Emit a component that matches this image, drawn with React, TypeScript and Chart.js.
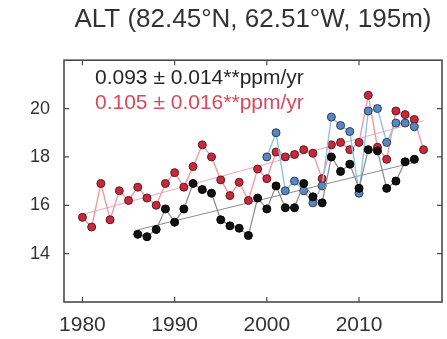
import { useEffect, useRef } from "react";
import { Chart, registerables } from "chart.js";

Chart.register(...registerables);

// Annual values (ppm) for the three records at Alert
const redYears = [1980, 1981, 1982, 1983, 1984, 1985, 1986, 1987, 1988, 1989, 1990, 1991, 1992, 1993, 1994, 1995, 1996, 1997, 1998, 1999, 2000, 2001, 2002, 2003, 2004, 2005, 2006, 2007, 2008, 2009, 2010, 2011, 2012, 2013, 2014, 2015, 2016, 2017];
const redValues = [15.5, 15.1, 16.9, 15.4, 16.6, 16.2, 16.75, 16.3, 16.0, 16.9, 17.35, 16.75, 17.6, 18.5, 18.0, 17.05, 16.4, 16.95, 16.2, 17.5, 17.1, 18.2, 18.0, 18.1, 18.3, 18.15, 17.1, 18.5, 18.6, 18.3, 18.6, 20.55, 18.4, 17.9, 19.9, 19.75, 19.55, 18.3];

const blackYears = [1986, 1987, 1988, 1989, 1990, 1991, 1992, 1993, 1994, 1995, 1996, 1997, 1998, 1999, 2000, 2001, 2002, 2003, 2004, 2005, 2006, 2007, 2008, 2009, 2010, 2011, 2012, 2013, 2014, 2015, 2016];
const blackValues = [14.8, 14.7, 15.0, 15.85, 15.3, 15.85, 16.9, 16.65, 16.5, 15.4, 15.15, 15.05, 14.75, 16.3, 15.85, 16.8, 15.9, 15.9, 16.9, 16.35, 16.1, 18.0, 17.4, 17.7, 16.7, 18.3, 18.25, 16.7, 17.0, 17.8, 17.9];

const blueYears = [2000, 2001, 2002, 2003, 2004, 2005, 2006, 2007, 2008, 2009, 2010, 2011, 2012, 2013, 2014, 2015, 2016];
const blueValues = [18.0, 19.0, 16.6, 17.0, 16.6, 16.1, 16.8, 19.65, 19.3, 19.05, 16.5, 19.9, 20.0, 18.6, 19.4, 19.4, 19.25];

// Trend slopes (ppm/yr) as printed in the panel
const blackSlope = 0.093;
const redSlope = 0.105;
const blackTrendLabel = "0.093 \u00b1 0.014**ppm/yr";
const redTrendLabel = "0.105 \u00b1 0.016**ppm/yr";

const xTickValues = [1980, 1990, 2000, 2010];
const yTickValues = [14, 16, 18, 20];

const titleText = "ALT (82.45\u00b0N, 62.51\u00b0W, 195m)";

const FONT = "'Liberation Sans', Arial, sans-serif";

function toPoints(xs: number[], ys: number[]) {
  return xs.map((x, i) => ({ x, y: ys[i] }));
}

// Straight fit line with a fixed slope through the mean of the series
function trendLine(xs: number[], ys: number[], slope: number) {
  const mx = xs.reduce((a, b) => a + b, 0) / xs.length;
  const my = ys.reduce((a, b) => a + b, 0) / ys.length;
  const x0 = xs[0];
  const x1 = xs[xs.length - 1];
  return [
    { x: x0, y: my + slope * (x0 - mx) },
    { x: x1, y: my + slope * (x1 - mx) },
  ];
}

const framePlugin = {
  id: "frameAndNotes",
  afterDraw(chart: any) {
    const { ctx, chartArea: a, scales } = chart;
    ctx.save();
    ctx.strokeStyle = "#4a4a4a";
    ctx.lineWidth = 1.6;
    ctx.strokeRect(a.left, a.top, a.right - a.left, a.bottom - a.top);

    const len = 5;
    ctx.lineWidth = 1.2;
    ctx.beginPath();
    xTickValues.forEach((v) => {
      const px = scales.x.getPixelForValue(v);
      ctx.moveTo(px, a.bottom);
      ctx.lineTo(px, a.bottom - len);
      ctx.moveTo(px, a.top);
      ctx.lineTo(px, a.top + len);
    });
    yTickValues.forEach((v) => {
      const py = scales.y.getPixelForValue(v);
      ctx.moveTo(a.left, py);
      ctx.lineTo(a.left + len, py);
      ctx.moveTo(a.right, py);
      ctx.lineTo(a.right - len, py);
    });
    ctx.stroke();

    ctx.font = `21px ${FONT}`;
    ctx.textBaseline = "middle";
    ctx.textAlign = "left";
    ctx.fillStyle = "#262626";
    ctx.fillText(blackTrendLabel, a.left + 31, a.top + 18);
    ctx.fillStyle = "#d9485e";
    ctx.fillText(redTrendLabel, a.left + 31, a.top + 43);
    ctx.restore();
  },
};

export default function App() {
  const canvasRef = useRef<HTMLCanvasElement | null>(null);

  useEffect(() => {
    const canvas = canvasRef.current;
    if (!canvas) return;

    const chart = new Chart(canvas, {
      type: "line",
      data: {
        datasets: [
          {
            label: "black",
            data: toPoints(blackYears, blackValues),
            borderColor: "#8a8a8a",
            borderWidth: 1.2,
            pointBackgroundColor: "#111111",
            pointBorderColor: "#000000",
            pointBorderWidth: 1,
            pointRadius: 4,
            pointStyle: "circle",
          },
          {
            label: "blue",
            data: toPoints(blueYears, blueValues),
            borderColor: "#8cc6dc",
            borderWidth: 1.4,
            pointBackgroundColor: "#5b86bd",
            pointBorderColor: "#2c3e5e",
            pointBorderWidth: 1,
            pointRadius: 4,
          },
          {
            label: "red",
            data: toPoints(redYears, redValues),
            borderColor: "#f09aa2",
            borderWidth: 1.4,
            pointBackgroundColor: "#c8283c",
            pointBorderColor: "#5a1a22",
            pointBorderWidth: 1,
            pointRadius: 4,
          },
          {
            label: "black trend",
            data: trendLine(blackYears, blackValues, blackSlope),
            borderColor: "#8c8c8c",
            borderWidth: 1,
            pointRadius: 0,
          },
          {
            label: "red trend",
            data: trendLine(redYears, redValues, redSlope),
            borderColor: "#eeaab2",
            borderWidth: 1,
            pointRadius: 0,
          },
        ],
      },
      options: {
        responsive: false,
        animation: false,
        layout: { padding: { left: 0, right: 4, top: 0, bottom: 0 } },
        plugins: {
          legend: { display: false },
          tooltip: { enabled: false },
          title: {
            display: true,
            text: titleText,
            fullSize: false,
            color: "#333333",
            font: { family: FONT, size: 26, weight: "normal", lineHeight: 1.2 },
            padding: { top: 4, bottom: 25 },
          },
        },
        scales: {
          x: {
            type: "linear",
            min: 1978,
            max: 2019,
            grid: { display: false, drawTicks: false },
            border: { display: false },
            afterBuildTicks: (scale: any) => {
              scale.ticks = xTickValues.map((v) => ({ value: v }));
            },
            afterFit: (scale: any) => {
              scale.height = 37;
            },
            ticks: {
              color: "#333333",
              font: { family: FONT, size: 21 },
              padding: 11,
              maxRotation: 0,
              autoSkip: false,
              callback: (v: any) => String(v),
            },
          },
          y: {
            type: "linear",
            min: 12,
            max: 22,
            grid: { display: false, drawTicks: false },
            border: { display: false },
            afterBuildTicks: (scale: any) => {
              scale.ticks = yTickValues.map((v) => ({ value: v }));
            },
            afterFit: (scale: any) => {
              scale.width = 64;
            },
            ticks: {
              color: "#333333",
              font: { family: FONT, size: 18 },
              padding: 14,
              callback: (v: any) => String(v),
            },
          },
        },
      },
      plugins: [framePlugin],
    });

    return () => chart.destroy();
  }, []);

  return (
    <div style={{ position: "fixed", left: 0, top: 0, width: 447, height: 339, background: "#ffffff" }}>
      <canvas ref={canvasRef} width={447} height={339} />
    </div>
  );
}
